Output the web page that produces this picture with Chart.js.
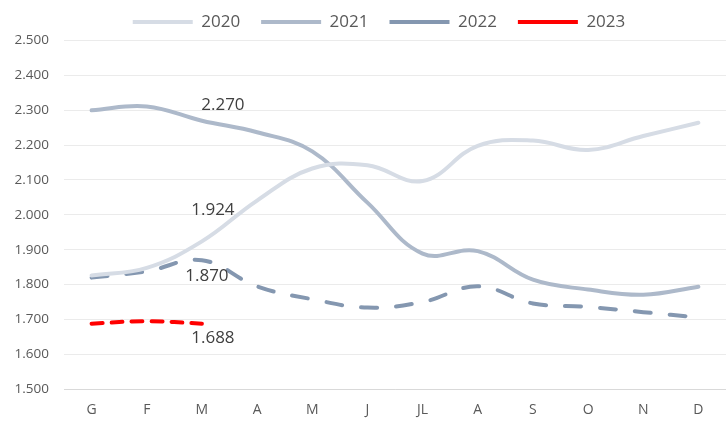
<!DOCTYPE html>
<html>
<head>
<meta charset="utf-8">
<script src="https://cdn.jsdelivr.net/npm/chart.js@4/dist/chart.umd.min.js"></script>
<style>
  html, body { margin: 0; padding: 0; background: #ffffff; }
  #wrap { width: 726px; height: 421px; }
</style>
</head>
<body>
<div id="wrap"><canvas id="c" width="726" height="421"></canvas></div>
<script>
// ---- data ----
const months = ['G','F','M','A','M','J','JL','A','S','O','N','D'];
const seriesNames = ['2020','2021','2022','2023'];
const v2020 = [1826, 1848, 1924, 2041, 2133, 2142, 2097, 2198, 2213, 2186, 2226, 2264];
const v2021 = [2300, 2311, 2270, 2237, 2182, 2035, 1889, 1896, 1814, 1786, 1771, 1794];
const v2022 = [1820, 1838, 1870, 1795, 1758, 1734, 1750, 1795, 1746, 1736, 1721, 1706];
const v2023 = [1688, 1695, 1688];
const yTicks = [1500, 1600, 1700, 1800, 1900, 2000, 2100, 2200, 2300, 2400, 2500];
// data labels: [dataset index, point index]
const labelledPoints = [[0, 2], [1, 2], [2, 2], [3, 2]];

function fmt(v) { return String(v).replace(/\B(?=(\d{3})+(?!\d))/g, '.'); }

const FONT = '"Open Sans", "Liberation Sans", sans-serif';
const labelOffsets = { 0: [11, -31], 1: [21, -16], 2: [5, 16], 3: [11, 15] };

const dataLabelPlugin = {
  id: 'dataLabels',
  afterLayout(chart) {
    if (chart.legend) { chart.legend.left += 16; chart.legend.right += 16; }
  },
  afterDatasetsDraw(chart) {
    const ctx = chart.ctx;
    ctx.save();
    ctx.font = '17px ' + FONT;
    ctx.fillStyle = '#404040';
    ctx.textAlign = 'center';
    ctx.textBaseline = 'middle';
    labelledPoints.forEach(([ds, idx]) => {
      const meta = chart.getDatasetMeta(ds);
      const el = meta.data[idx];
      if (!el) return;
      const off = labelOffsets[ds];
      const val = chart.data.datasets[ds].data[idx];
      ctx.fillText(fmt(val), el.x + off[0], el.y + off[1]);
    });
    ctx.restore();
  }
};

new Chart(document.getElementById('c'), {
  type: 'line',
  data: {
    labels: months,
    datasets: [
      { label: seriesNames[0], data: v2020, borderColor: '#d6dce5', borderWidth: 4, tension: 0.4, pointRadius: 0, borderCapStyle: 'round', fill: false },
      { label: seriesNames[1], data: v2021, borderColor: '#adb9ca', borderWidth: 4, tension: 0.4, pointRadius: 0, borderCapStyle: 'round', fill: false },
      { label: seriesNames[2], data: v2022, borderColor: '#8497b0', borderWidth: 4, tension: 0.4, pointRadius: 0, borderCapStyle: 'round', borderDash: [16, 19], fill: false },
      { label: seriesNames[3], data: v2023, borderColor: '#ff0000', borderWidth: 4, tension: 0.4, pointRadius: 0, borderCapStyle: 'round', borderDash: [11, 9], fill: false }
    ]
  },
  options: {
    responsive: false,
    animation: false,
    layout: { padding: { left: 0, right: 0, top: -7.5, bottom: -10 } },
    plugins: {
      tooltip: { enabled: false },
      legend: {
        position: 'top',
        align: 'center',
        labels: {
          usePointStyle: true,
          pointStyle: 'line',
          pointStyleWidth: 60,
          boxHeight: 4,
          padding: 21,
          color: '#595959',
          font: { family: FONT, size: 17 }
        }
      }
    },
    scales: {
      x: {
        offset: true,
        grid: { display: false, drawTicks: false, offset: true },
        border: { display: true, color: '#d9d9d9', width: 1 },
        ticks: { color: '#595959', font: { family: FONT, size: 14 }, padding: 12.5, maxRotation: 0, autoSkip: false }
      },
      y: {
        min: 1500, max: 2500,
        afterFit(scale) { scale.width = 64; },
        afterBuildTicks(scale) { scale.ticks = yTicks.map(v => ({ value: v })); },
        grid: { color: '#ebebeb', lineWidth: 1, drawTicks: false },
        border: { display: false },
        ticks: { color: '#595959', font: { family: FONT, size: 13.5 }, padding: 15, callback: v => fmt(v) }
      }
    }
  },
  plugins: [dataLabelPlugin]
});
</script>
</body>
</html>
